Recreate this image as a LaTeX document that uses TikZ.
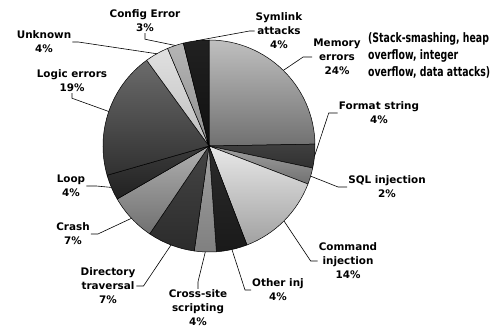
\documentclass[tikz,border=0pt]{standalone}
\usepackage{fontspec}
\setmainfont{DejaVu Sans}
\newfontfamily\notefont[FakeStretch=0.72]{DejaVu Sans}
\usetikzlibrary{positioning,
                shadings}

\tikzset{slice/.style={draw=black,line width=0.5pt},
         lbl/.style={align=center,inner sep=1pt,font=\bfseries\fontsize{10.4}{14}\selectfont},
         leader/.style={draw=black,line width=0.6pt}}

\begin{document}
\begin{tikzpicture}[x=1pt,y=1pt]
 \useasboundingbox[fill=white] (-209,-184) rectangle (288,146);
 \foreach \a/\b/\t/\u/\n in {90/1/25/56/mem, 1/-12/75/81/fmt, -12/-21/37/56/sql,
     -21/-69/9/37/cmd, -69/-86/83/90/oth, -86/-98/37/50/xss, -98/-124/73/83/dir,
     -124/-150/31/56/crs, -150/-164/77/87/lop, 196/126/58/81/lgc,
     126/113/12/25/unk, 113/104/29/44/cfg, 104/90/87/94/sym}
   {
     \draw[slice,top color=black!\t,bottom color=black!\u]
       (0,0) -- (\a:106) arc[start angle=\a,end angle=\b,radius=106] -- cycle;
     \coordinate (p\n) at ({(\a+\b)/2}:106);
   }
 \node[lbl] (lmem) at (128,89) {Memory\\errors\\24\%};
 \node[lbl] (lfmt) at (170,33) {Format string\\4\%};
 \node[lbl] (lsql) at (178,-41) {SQL injection\\2\%};
 \node[lbl] (lcmd) at (139,-115) {Command\\injection\\14\%};
 \node[lbl] (loth) at (69,-144) {Other inj\\4\%};
 \node[lbl] (lxss) at (-11,-162) {Cross-site\\scripting\\4\%};
 \node[lbl] (ldir) at (-101,-140) {Directory\\traversal\\7\%};
 \node[lbl] (lcrs) at (-136,-88) {Crash\\7\%};
 \node[lbl] (llop) at (-138,-40) {Loop\\4\%};
 \node[lbl] (llgc) at (-137,65) {Logic errors\\19\%};
 \node[lbl] (lunk) at (-165,104) {Unknown\\4\%};
 \node[lbl] (lcfg) at (-64,125) {Config Error\\3\%};
 \node[lbl] (lsym) at (70,115) {Symlink\\attacks\\4\%};
 \node[anchor=west,align=left,inner sep=0pt,
       font=\notefont\bfseries\fontsize{13}{17}\selectfont] (note) at (159,91)
   {(Stack-smashing, heap\\overflow, integer\\overflow, data attacks)};
 % leaders
 \draw[leader] (lmem.west) -- ++(-9,0) -- (pmem);
 \draw[leader] (lfmt.west) -- ++(-9,0) -- (pfmt);
 \draw[leader] (lsql.west) -- ++(-9,0) -- (psql);
 \draw[leader] (lcmd.west) -- ++(-7,0) -- (pcmd);
 \draw[leader] (loth.west) -- ++(-6,0) -- (poth);
 \draw[leader] (lxss.north) -- ++(0,7) -- (pxss);
 \draw[leader] (ldir.east) -- ++(7,0) -- (pdir);
 \draw[leader] (lcrs.east) -- ++(7,0) -- (pcrs);
 \draw[leader] (llop.east) -- ++(10,0) -- (plop);
 \draw[leader] (llgc.south) -- ++(0,-5) -- (plgc);
 \draw[leader] (lunk.east) -- ++(6,0) -- (punk);
 \draw[leader] (lcfg.south) -- ++(0,-6) -- (pcfg);
 \draw[leader] (lsym.west) -- ++(-5,0) -- (psym);
\end{tikzpicture}
\end{document}
